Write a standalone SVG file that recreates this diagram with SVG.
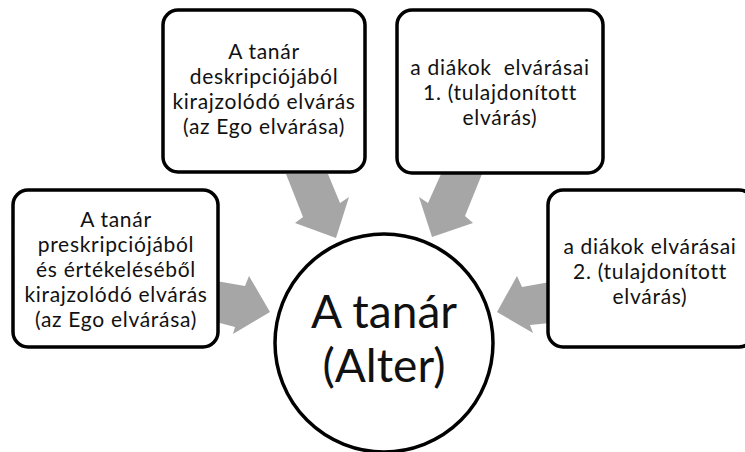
<svg xmlns="http://www.w3.org/2000/svg" width="745" height="452" viewBox="0 0 745 452">
  <style>
    .box { fill: #ffffff; stroke: #000000; stroke-width: 3.5; }
    .hub { fill: #ffffff; stroke: #000000; stroke-width: 3.5; }
    .arrow { fill: #a6a6a6; stroke: none; }
    .t { font-family: Lato, "Liberation Sans", sans-serif; font-size: 21px; fill: #111111; text-anchor: middle; letter-spacing: 0.7px; }
    .big { font-family: Lato, "Liberation Sans", sans-serif; font-size: 46px; fill: #111111; text-anchor: middle; }
  </style>
  <rect width="745" height="452" fill="#ffffff"/>

  <!-- block arrows pointing at the central circle -->
  <g id="connectors">
    <polygon class="arrow" points="286,174 328,174 340,203 349,197 336,238 295,223 303,217"/>
    <polygon class="arrow" points="441,174 482,174 465,216 473,223 432,237 419,197 428,203"/>
    <polygon class="arrow" points="216,281 245,286 249,276 270,312 233,334 235,327 216,322"/>
    <polygon class="arrow" points="550,282 522,287 517,276 497,312 533,333 530,325 550,323"/>
  </g>

  <g id="node-prescription">
    <rect class="box" x="13" y="190" width="205" height="157" rx="15"/>
    <text class="t" x="116" y="227">A tanár</text>
    <text class="t" x="116" y="252">preskripciójából</text>
    <text class="t" x="116" y="277">és értékeléséből</text>
    <text class="t" x="116" y="302">kirajzolódó elvárás</text>
    <text class="t" x="116" y="327">(az Ego elvárása)</text>
  </g>

  <g id="node-description">
    <rect class="box" x="163" y="10" width="202" height="162" rx="15"/>
    <text class="t" x="264" y="59">A tanár</text>
    <text class="t" x="264" y="84">deskripciójából</text>
    <text class="t" x="264" y="109">kirajzolódó elvárás</text>
    <text class="t" x="264" y="134">(az Ego elvárása)</text>
  </g>

  <g id="node-students-1">
    <rect class="box" x="397" y="10" width="206" height="163" rx="15"/>
    <text class="t" x="500" y="75" xml:space="preserve">a diákok  elvárásai</text>
    <text class="t" x="500" y="100">1. (tulajdonított</text>
    <text class="t" x="500" y="125">elvárás)</text>
  </g>

  <g id="node-students-2">
    <rect class="box" x="548" y="190" width="206" height="157" rx="15"/>
    <text class="t" x="650" y="254">a diákok elvárásai</text>
    <text class="t" x="650" y="279">2. (tulajdonított</text>
    <text class="t" x="650" y="304">elvárás)</text>
  </g>

  <g id="node-teacher">
    <circle class="hub" cx="384" cy="343" r="109"/>
    <text class="big" x="384" y="328">A tanár</text>
    <text class="big" x="384" y="382">(Alter)</text>
  </g>
</svg>
